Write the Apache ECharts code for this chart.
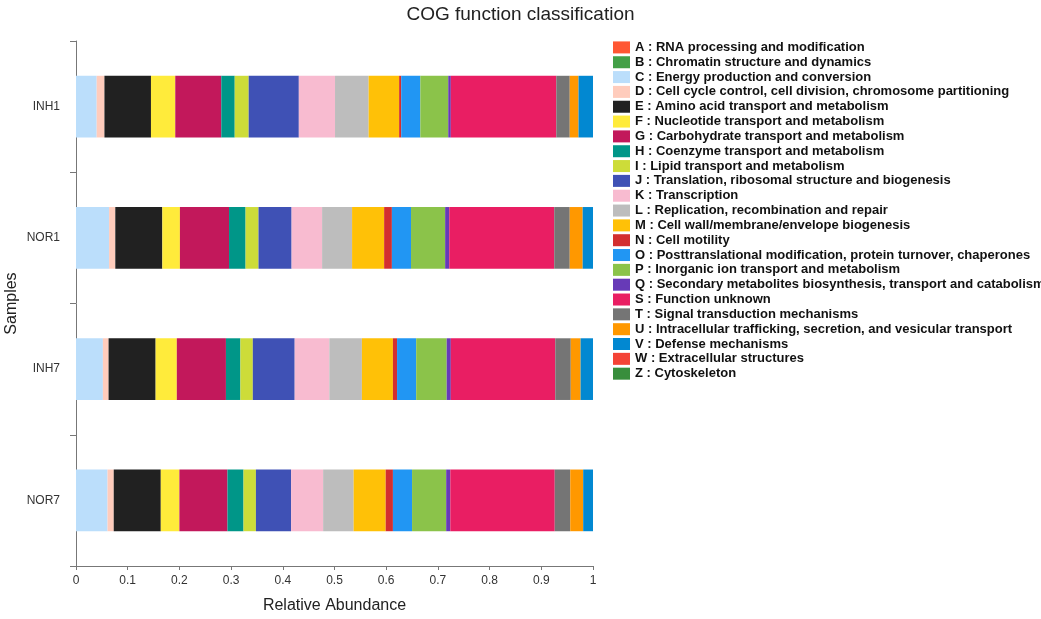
<!DOCTYPE html>
<html>
<head>
<meta charset="utf-8">
<script src="https://cdn.jsdelivr.net/npm/echarts@6/dist/echarts.min.js"></script>
<style>
html,body{margin:0;padding:0;background:#fff;}
#chart{width:1041px;height:619px;}
</style>
</head>
<body>
<div id="chart"></div>
<script>
// Samples (top to bottom)
const samples = ['INH1', 'NOR1', 'INH7', 'NOR7'];
// COG codes and descriptions
const codes = ['A','B','C','D','E','F','G','H','I','J','K','L','M','N','O','P','Q','S','T','U','V','W','Z'];
const descriptions = [
  'RNA processing and modification',
  'Chromatin structure and dynamics',
  'Energy production and conversion',
  'Cell cycle control, cell division, chromosome partitioning',
  'Amino acid transport and metabolism',
  'Nucleotide transport and metabolism',
  'Carbohydrate transport and metabolism',
  'Coenzyme transport and metabolism',
  'Lipid transport and metabolism',
  'Translation, ribosomal structure and biogenesis',
  'Transcription',
  'Replication, recombination and repair',
  'Cell wall/membrane/envelope biogenesis',
  'Cell motility',
  'Posttranslational modification, protein turnover, chaperones',
  'Inorganic ion transport and metabolism',
  'Secondary metabolites biosynthesis, transport and catabolism',
  'Function unknown',
  'Signal transduction mechanisms',
  'Intracellular trafficking, secretion, and vesicular transport',
  'Defense mechanisms',
  'Extracellular structures',
  'Cytoskeleton'
];
const colors = ['#FF5733','#43A047','#BBDEFB','#FFCCBC','#212121','#FFEB3B','#C2185B','#009688','#CDDC39','#3F51B5','#F8BBD0','#BDBDBD','#FFC107','#D32F2F','#2196F3','#8BC34A','#673AB7','#E91E63','#757575','#FF9800','#0288D1','#F44336','#388E3C'];

// Relative abundance per sample, order of codes
const INH1 = [0,0,0.040,0.015,0.090,0.047,0.089,0.026,0.027,0.097,0.070,0.065,0.059,0.004,0.037,0.054,0.005,0.204,0.026,0.017,0.028,0,0];
const NOR1 = [0,0,0.064,0.012,0.091,0.034,0.095,0.032,0.025,0.064,0.059,0.058,0.062,0.015,0.037,0.066,0.008,0.203,0.030,0.025,0.020,0,0];
const INH7 = [0,0,0.052,0.011,0.091,0.041,0.095,0.028,0.024,0.081,0.067,0.063,0.060,0.008,0.037,0.059,0.008,0.202,0.030,0.019,0.024,0,0];
const NOR7 = [0,0,0.061,0.012,0.091,0.036,0.093,0.031,0.024,0.068,0.062,0.059,0.062,0.014,0.037,0.066,0.008,0.202,0.030,0.025,0.019,0,0];
const sampleValues = [INH1, NOR1, INH7, NOR7];

const xTicks = [0,0.1,0.2,0.3,0.4,0.5,0.6,0.7,0.8,0.9,1];

const FONT = '"Liberation Sans", Arial, sans-serif';
const series = codes.map((c, i) => ({
  name: c + ' : ' + descriptions[i],
  type: 'bar',
  stack: 'total',
  barWidth: '47%',
  itemStyle: { color: colors[i] },
  emphasis: { disabled: true },
  data: sampleValues.map(v => v[i])
}));

const chart = echarts.init(document.getElementById('chart'));
chart.setOption({
  animation: false,
  backgroundColor: '#fff',
  textStyle: { fontFamily: FONT },
  title: {
    text: 'COG function classification',
    left: 'center',
    top: 0,
    textStyle: { fontFamily: FONT, fontSize: 19, fontWeight: 'normal', color: '#222' }
  },
  legend: {
    orient: 'vertical',
    left: 608,
    top: 35,
    icon: 'rect',
    itemWidth: 17,
    itemHeight: 12,
    itemGap: 0,
    textStyle: { fontFamily: FONT, fontSize: 13, fontWeight: 'bold', color: '#111', lineHeight: 14.83, height: 14.83 },
    data: series.map(s => s.name),
    selectedMode: false
  },
  grid: { left: 76, right: 448, top: 41, bottom: 49, containLabel: false },
  xAxis: {
    type: 'value',
    min: xTicks[0],
    max: xTicks[xTicks.length - 1],
    interval: 0.1,
    name: 'Relative Abundance',
    nameLocation: 'middle',
    nameGap: 32,
    nameTextStyle: { fontFamily: FONT, fontSize: 16, color: '#222' },
    axisLine: { show: true, lineStyle: { color: '#777', width: 1 } },
    axisTick: { show: true, length: 4, lineStyle: { color: '#777' } },
    axisLabel: { fontFamily: FONT, fontSize: 12, color: '#333', margin: 9 },
    splitLine: { show: false }
  },
  yAxis: {
    type: 'category',
    inverse: true,
    data: samples,
    name: 'Samples',
    nameLocation: 'middle',
    nameGap: 56,
    nameTextStyle: { fontFamily: FONT, fontSize: 16, color: '#222' },
    axisLine: { show: true, lineStyle: { color: '#777', width: 1 } },
    axisTick: { show: true, length: 6, lineStyle: { color: '#777' } },
    axisLabel: { fontFamily: FONT, fontSize: 12, color: '#333', margin: 16 }
  },
  series: series
});
</script>
</body>
</html>
